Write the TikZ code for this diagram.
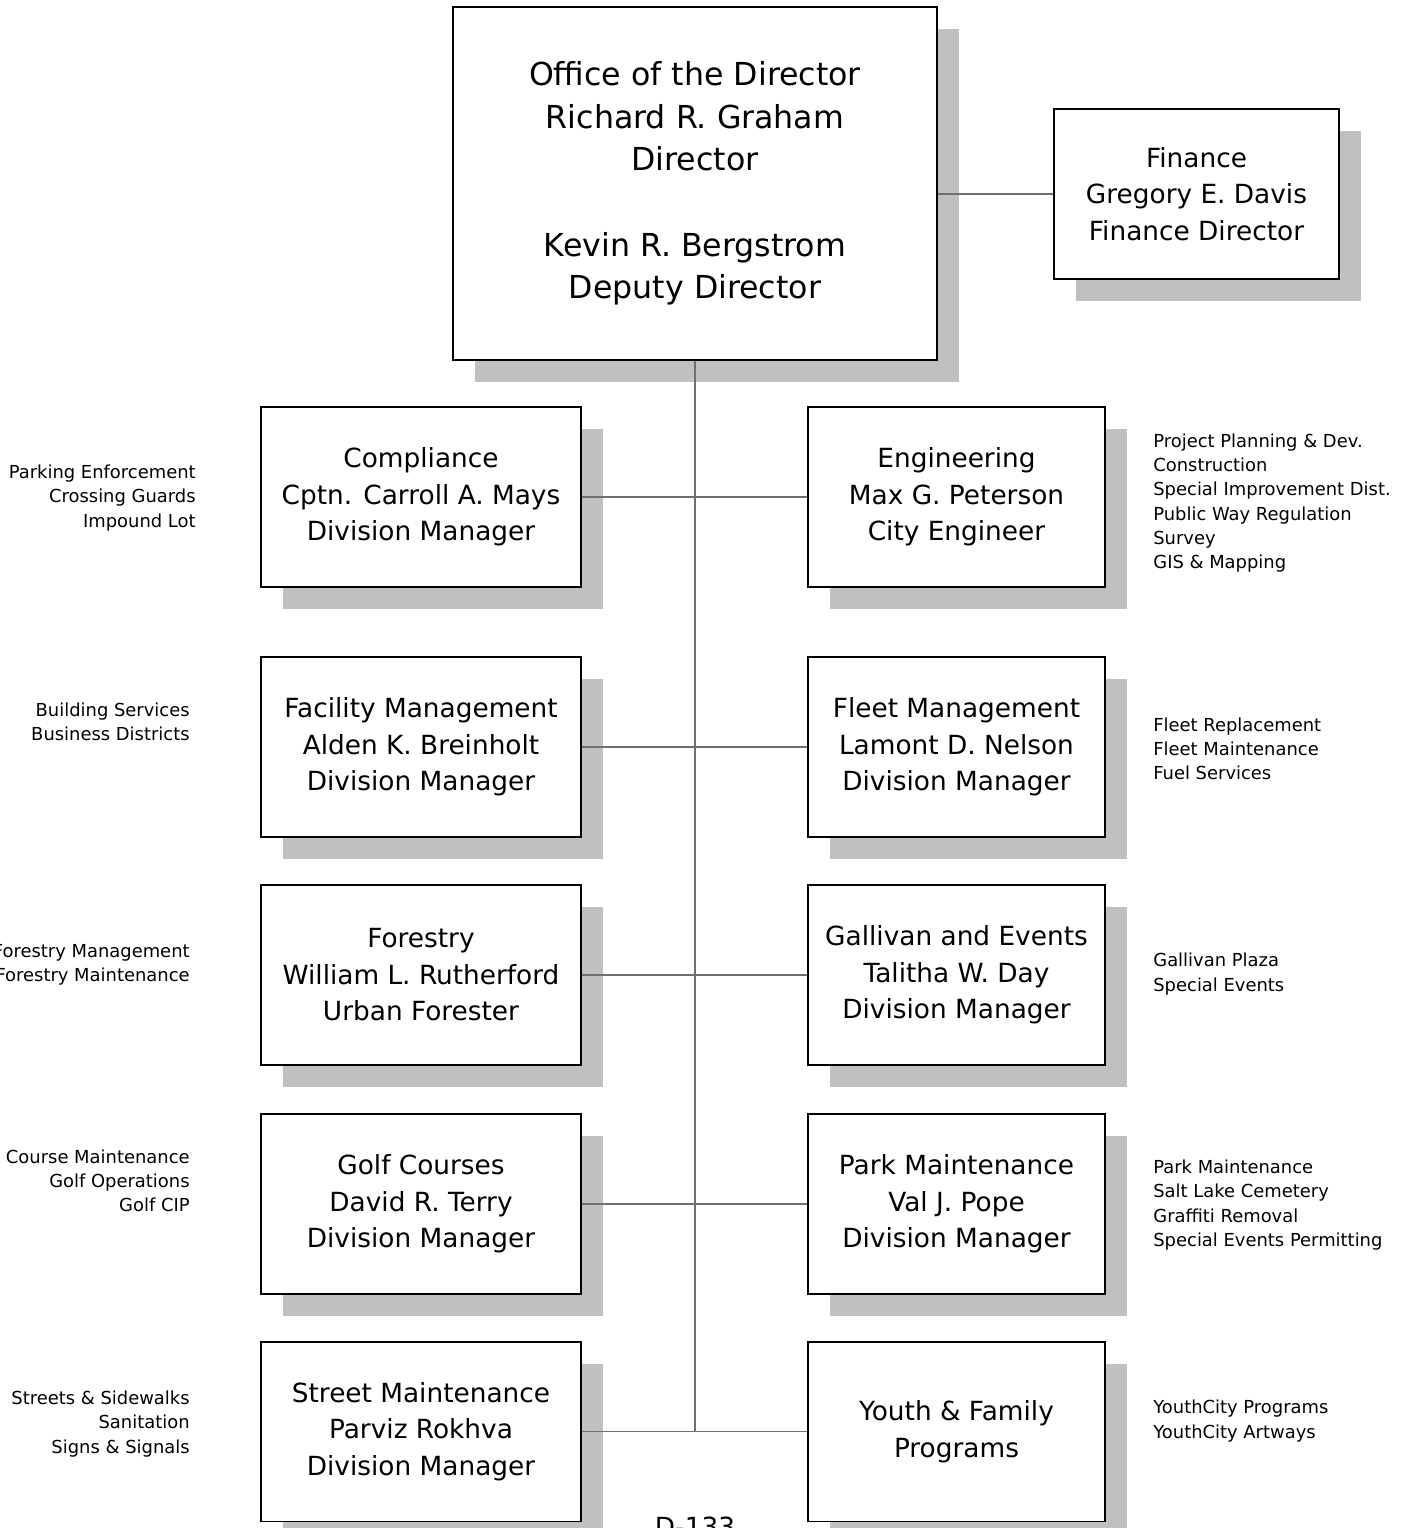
\documentclass[tikz,border=0pt]{standalone}
\usepackage{fontspec}
\setmainfont{DejaVu Sans}
\usetikzlibrary{shadows}
\definecolor{shadowgray}{HTML}{C0C0C0}
\definecolor{linkgray}{HTML}{707070}

\tikzset{
  orgbox/.style={draw=black, line width=1.1pt, fill=white, align=center, inner sep=0pt,
    general shadow={fill=shadowgray, shadow xshift=0.44cm, shadow yshift=-0.44cm},
    font=\fontsize{15}{20.8}\selectfont},
  leftbox/.style={orgbox, minimum width=6.4cm, minimum height=3.6cm},
  rightbox/.style={orgbox, minimum width=5.94cm, minimum height=3.6cm},
  duties/.style={font=\fontsize{10.2}{13.8}\selectfont, inner sep=0pt},
  link/.style={draw=linkgray, line width=0.6pt}
}

\begin{document}
\begin{tikzpicture}[x=0.02cm, y=-0.02cm]
  \useasboundingbox (0,0) rectangle (1408,1528);

  % Office of the Director
  \node[orgbox, minimum width=9.68cm, minimum height=7.06cm, font=\fontsize{18}{24.2}\selectfont]
    (dir) at (695,183.5) {Office of the Director\\Richard R. Graham\\Director\\[24.2pt]Kevin R. Bergstrom\\Deputy Director};

  % Finance
  \node[orgbox, minimum width=5.7cm, minimum height=3.4cm] (fin) at (1196.5,194)
    {Finance\\Gregory E. Davis\\Finance Director};

  % Divisions
  \node[leftbox] (comp) at (421,497) {Compliance\\Cptn. Carroll A. Mays\\Division Manager};
  \node[rightbox] (eng) at (956.5,497) {Engineering\\Max G. Peterson\\City Engineer};
  \node[leftbox] (fac) at (421,747) {Facility Management\\Alden K. Breinholt\\Division Manager};
  \node[rightbox] (fleet) at (956.5,747) {Fleet Management\\Lamont D. Nelson\\Division Manager};
  \node[leftbox] (forest) at (421,975) {Forestry\\William L. Rutherford\\Urban Forester};
  \node[rightbox] (gall) at (956.5,975) {Gallivan and Events\\Talitha W. Day\\Division Manager};
  \node[leftbox] (golf) at (421,1204) {Golf Courses\\David R. Terry\\Division Manager};
  \node[rightbox] (park) at (956.5,1204) {Park Maintenance\\Val J. Pope\\Division Manager};
  \node[leftbox] (street) at (421,1431.5) {Street Maintenance\\Parviz Rokhva\\Division Manager};
  \node[rightbox] (youth) at (956.5,1431.5) {Youth \& Family\\Programs};

  % Connectors
  \draw[link] (dir.east |- fin.west) -- (fin.west);
  \draw[link] (dir.south) -- (dir.south |- street.east);
  \foreach \l/\r in {comp/eng, fac/fleet, forest/gall, golf/park, street/youth}
    \draw[link] (\l.east) -- (\r.west);

  % Duties, left side
  \node[duties, anchor=east, align=right] (compd) at (196,498)
    {Parking Enforcement\\Crossing Guards\\Impound Lot};
  \node[duties, anchor=east, align=right] (facd) at (190,722)
    {Building Services\\Business Districts};
  \node[duties, anchor=east, align=right] (forestd) at (190,965)
    {Forestry Management\\Forestry Maintenance};
  \node[duties, anchor=east, align=right] (golfd) at (190,1181)
    {Course Maintenance\\Golf Operations\\Golf CIP};
  \node[duties, anchor=east, align=right] (streetd) at (190,1424)
    {Streets \& Sidewalks\\Sanitation\\Signs \& Signals};

  % Duties, right side
  \node[duties, anchor=west, align=left] (engd) at (1153,503)
    {Project Planning \& Dev.\\Construction\\Special Improvement Dist.\\Public Way Regulation\\Survey\\GIS \& Mapping};
  \node[duties, anchor=west, align=left] (fleetd) at (1153,749)
    {Fleet Replacement\\Fleet Maintenance\\Fuel Services};
  \node[duties, anchor=west, align=left] (galld) at (1153,974)
    {Gallivan Plaza\\Special Events};
  \node[duties, anchor=west, align=left] (parkd) at (1153,1205)
    {Park Maintenance\\Salt Lake Cemetery\\Graffiti Removal\\Special Events Permitting};
  \node[duties, anchor=west, align=left] (youthd) at (1153,1421)
    {YouthCity Programs\\YouthCity Artways};

  % Page number
  \node[font=\fontsize{15}{18}\selectfont, inner sep=0pt, anchor=north] (page) at (695,1517) {D-133};
\end{tikzpicture}
\end{document}
